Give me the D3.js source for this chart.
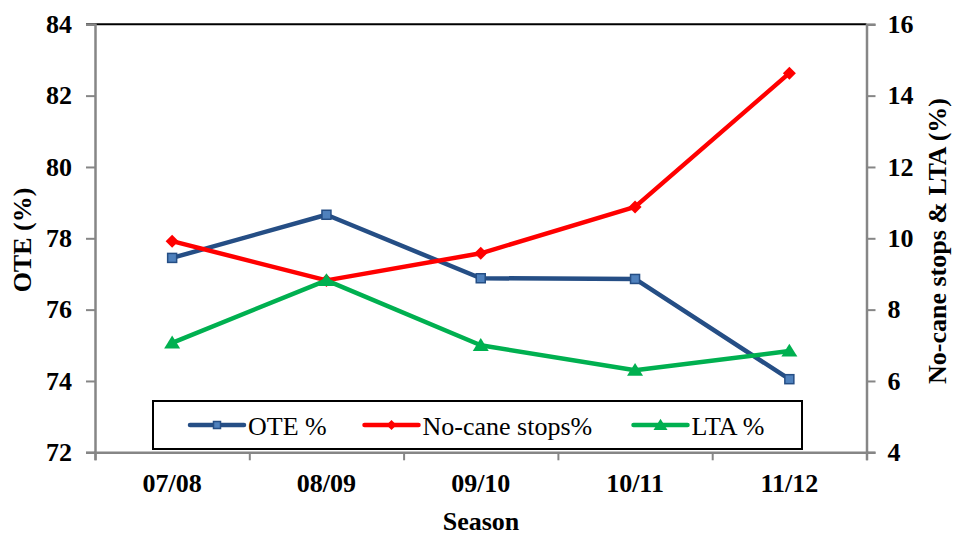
<!DOCTYPE html>
<html>
<head>
<meta charset="utf-8">
<script src="https://cdn.jsdelivr.net/npm/d3@7/dist/d3.min.js"></script>
</head>
<body style="margin:0;background:#fff">
<svg id="chart" width="954" height="535" style="display:block"></svg>
<script>
// ---- data ----
const seasons = ["07/08", "08/09", "09/10", "10/11", "11/12"];
const oteValues = [77.45, 78.66, 76.88, 76.86, 74.05];
const noCaneValues = [9.92, 8.82, 9.58, 10.88, 14.63];
const ltaValues = [7.07, 8.82, 7.0, 6.3, 6.84];
const leftTicks = [72, 74, 76, 78, 80, 82, 84];
const rightTicks = [4, 6, 8, 10, 12, 14, 16];
const seriesNames = ["OTE %", "No-cane stops%", "LTA %"];

(function () {
// ---- layout ----
const FONT = '"Liberation Serif"';
const pLeft = 95, pRight = 866.5, pTop = 24.3, pBottom = 452.3;
const axisColor = "#868686";
const blue = "#254E85", blueFill = "#4F81BD", red = "#FF0000", green = "#00B050";

const svg = d3.select("#chart");

const x = d3.scalePoint().domain(seasons).range([pLeft, pRight]).padding(0.5);
const yL = d3.scaleLinear().domain([72, 84]).range([pBottom, pTop]);
const yR = d3.scaleLinear().domain([4, 16]).range([pBottom, pTop]);

function txt(sel, size, bold) {
  return sel.style("font-family", FONT).style("font-size", size + "px")
    .style("font-weight", bold ? "bold" : "normal").attr("fill", "#000");
}

// top border
svg.append("line").attr("x1", pLeft - 9).attr("x2", pRight).attr("y1", pTop).attr("y2", pTop)
  .attr("stroke", "#000").attr("stroke-width", 2);

// left axis
const gL = svg.append("g").attr("transform", `translate(${pLeft},0)`)
  .call(d3.axisLeft(yL).tickValues(leftTicks).tickSize(9).tickPadding(14).tickFormat(d3.format("d")));
// right axis
const gR = svg.append("g").attr("transform", `translate(${pRight},0)`)
  .call(d3.axisRight(yR).tickValues(rightTicks).tickSize(9).tickPadding(14).tickFormat(d3.format("d")));
// bottom axis (ticks at category boundaries)
const step = x.step();
const boundaries = d3.range(seasons.length + 1).map(i => pLeft + i * step);
const xb = d3.scaleLinear().domain([pLeft, pRight]).range([pLeft, pRight]);
const gB = svg.append("g").attr("transform", `translate(0,${pBottom})`)
  .call(d3.axisBottom(xb).tickValues(boundaries).tickSize(8).tickFormat(""));

[gL, gR, gB].forEach(g => {
  g.select(".domain").attr("stroke", axisColor).attr("stroke-width", 2.5);
  g.selectAll(".tick line").attr("stroke", axisColor).attr("stroke-width", 2);
  txt(g.selectAll(".tick text"), 26, true);
});
gR.selectAll(".tick text").attr("dx", "-2");

// category labels
txt(svg.append("g").selectAll("text").data(seasons).join("text")
  .attr("x", d => x(d)).attr("y", 492)
  .attr("text-anchor", "middle"), 26, true)
  .text(d => d);

// axis titles
txt(svg.append("text").attr("transform", `translate(31,240) rotate(-90)`)
  .attr("text-anchor", "middle"), 26, true).text("OTE (%)");
txt(svg.append("text").attr("transform", `translate(946,241) rotate(-90)`)
  .attr("text-anchor", "middle"), 26, true).text("No-cane stops & LTA (%)");
txt(svg.append("text").attr("x", 481).attr("y", 530)
  .attr("text-anchor", "middle"), 26, true).text("Season");

// marker helpers
function square(g, cx, cy, s) {
  g.append("rect").attr("x", cx - s / 2).attr("y", cy - s / 2).attr("width", s).attr("height", s)
    .attr("fill", blueFill).attr("stroke", blue).attr("stroke-width", 1.5);
}
function diamond(g, cx, cy, s) {
  g.append("path").attr("d", `M${cx},${cy - s}L${cx + s},${cy}L${cx},${cy + s}L${cx - s},${cy}Z`)
    .attr("fill", red);
}
function triangle(g, cx, cy, s) {
  g.append("path").attr("d", `M${cx},${cy - s * 0.9}L${cx + s},${cy + s * 0.7}L${cx - s},${cy + s * 0.7}Z`)
    .attr("fill", green);
}

const lineGen = (yScale) => d3.line().x((d, i) => x(seasons[i])).y(d => yScale(d));

const series = [
  { vals: oteValues, scale: yL, color: blue, marker: (g, cx, cy) => square(g, cx, cy, 9) },
  { vals: noCaneValues, scale: yR, color: red, marker: (g, cx, cy) => diamond(g, cx, cy, 6.5) },
  { vals: ltaValues, scale: yR, color: green, marker: (g, cx, cy) => triangle(g, cx, cy, 8) }
];

series.forEach(s => {
  const g = svg.append("g");
  g.append("path").datum(s.vals).attr("d", lineGen(s.scale))
    .attr("fill", "none").attr("stroke", s.color).attr("stroke-width", 4.5)
    .attr("stroke-linejoin", "round");
  s.vals.forEach((v, i) => s.marker(g, x(seasons[i]), s.scale(v)));
});

// legend
const lg = svg.append("g");
lg.append("rect").attr("x", 153).attr("y", 401).attr("width", 649).attr("height", 48)
  .attr("fill", "#fff").attr("stroke", "#000").attr("stroke-width", 2);
const legendX = [190, 364.5, 633.5];
const ly = 425;
series.forEach((s, i) => {
  const x0 = legendX[i];
  lg.append("line").attr("x1", x0).attr("x2", x0 + 54).attr("y1", ly).attr("y2", ly)
    .attr("stroke", s.color).attr("stroke-width", 4.5).attr("stroke-linecap", "round");
  if (i === 0) square(lg, x0 + 27, ly, 7);
  if (i === 1) diamond(lg, x0 + 27, ly, 5);
  if (i === 2) triangle(lg, x0 + 27, ly, 7);
  txt(lg.append("text").attr("x", x0 + 58).attr("y", ly + 9.5), 26, false).text(seriesNames[i]);
});
})();
</script>
</body>
</html>
